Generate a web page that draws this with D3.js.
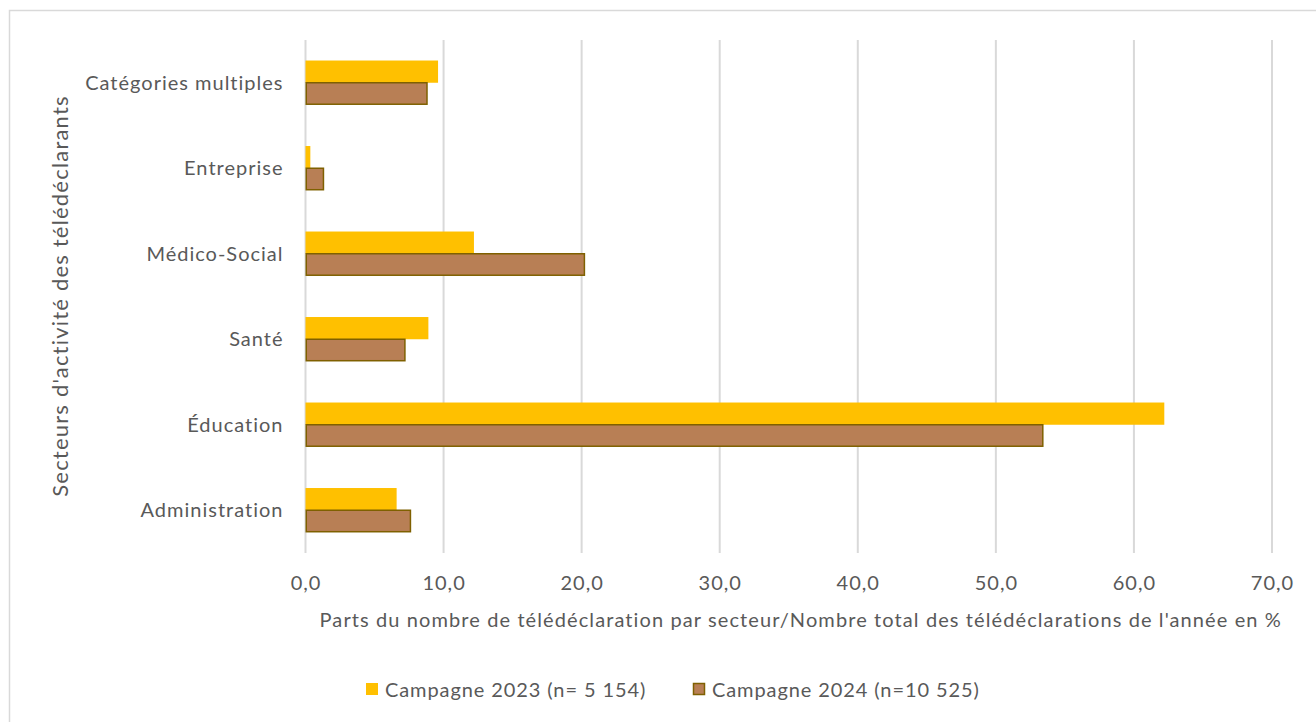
<!DOCTYPE html>
<html><head><meta charset="utf-8">
<script src="https://cdn.jsdelivr.net/npm/d3@7"></script>
<style>body{margin:0;background:#fff;} text{font-family:Lato, "Open Sans", sans-serif; fill:#595959;}</style>
</head><body>
<svg id="c" width="1316" height="722"></svg>
<script>
const categories = ["Catégories multiples","Entreprise","Médico-Social","Santé","Éducation","Administration"];
const series2023 = [9.6, 0.35, 12.2, 8.9, 62.2, 6.6];
const series2024 = [8.8, 1.3, 20.2, 7.2, 53.4, 7.6];
const seriesNames = ["Campagne 2023 (n= 5 154)", "Campagne 2024 (n=10 525)"];
const xTicks = [0,10,20,30,40,50,60,70];
const xTitle = "Parts du nombre de télédéclaration par secteur/Nombre total des télédéclarations de l'année en %";
const yTitle = "Secteurs d'activité des télédéclarants";

const svg = d3.select("#c");
svg.append("rect").attr("x",9.5).attr("y",10.5).attr("width",1400).attr("height",800)
  .attr("fill","#fff").attr("stroke","#d9d9d9").attr("stroke-width",1.5);

const m = {l:305.5, r:1272, t:40, b:553};
const x = d3.scaleLinear().domain([0,70]).range([m.l, m.r]);
const y = d3.scaleBand().domain(categories).range([m.t, m.b]).paddingInner(0.48).paddingOuter(0.24);

// gridlines
svg.append("g").selectAll("line").data(xTicks).join("line")
  .attr("x1",d=>x(d)).attr("x2",d=>x(d)).attr("y1",m.t).attr("y2",m.b)
  .attr("stroke","#d9d9d9").attr("stroke-width",2);

const bw = y.bandwidth()/2;
const data = categories.map((c,i)=>({c, a:series2023[i], b:series2024[i]}));
svg.append("g").selectAll("rect").data(data).join("rect")
  .attr("x",x(0)).attr("y",d=>y(d.c)).attr("width",d=>x(d.a)-x(0)).attr("height",bw)
  .attr("fill","#ffc000");
svg.append("g").selectAll("rect").data(data).join("rect")
  .attr("x",x(0)+0.75).attr("y",d=>y(d.c)+bw).attr("width",d=>x(d.b)-x(0)-0.75).attr("height",bw-0.75)
  .attr("fill","#b87f55").attr("stroke","#7f6000").attr("stroke-width",1.5);

const LS = "1px";
// x axis labels
const xa = d3.axisBottom(x).tickValues(xTicks).tickFormat(d=>d3.format(".1f")(d).replace(".",",")).tickSize(0).tickPadding(0);
const gx = svg.append("g").attr("transform",`translate(0,${m.b})`).call(xa);
gx.select(".domain").remove();
gx.selectAll("text").attr("font-size",20).attr("dy",0).attr("y",37).style("font-family","Lato, sans-serif").style("letter-spacing",LS).attr("fill","#595959");

// y axis labels
const ya = d3.axisLeft(y).tickSize(0).tickPadding(0);
const gy = svg.append("g").attr("transform",`translate(${m.l-22},0)`).call(ya);
gy.select(".domain").remove();
gy.selectAll("text").attr("font-size",20).attr("fill","#595959").attr("dy","0.35em").style("font-family","Lato, sans-serif").style("letter-spacing",LS);

svg.append("text").attr("x",(m.l+m.r)/2+12).attr("y",627).attr("text-anchor","middle").attr("font-size",20).style("letter-spacing","1.1px").text(xTitle);
svg.append("text").attr("transform","translate(68,296) rotate(-90)").attr("text-anchor","middle").attr("font-size",22).style("letter-spacing","1.2px").text(yTitle);

// legend
const lg = svg.append("g");
lg.append("rect").attr("x",366).attr("y",683).attr("width",12).attr("height",12).attr("fill","#ffc000");
lg.append("text").attr("x",385).attr("y",697).attr("font-size",20).style("letter-spacing","0.9px").text(seriesNames[0]);
lg.append("rect").attr("x",693.5).attr("y",683.5).attr("width",11).attr("height",11).attr("fill","#b87f55").attr("stroke","#7f6000").attr("stroke-width",1.5);
lg.append("text").attr("x",712).attr("y",697).attr("font-size",20).style("letter-spacing","0.9px").text(seriesNames[1]);
</script>
</body></html>
